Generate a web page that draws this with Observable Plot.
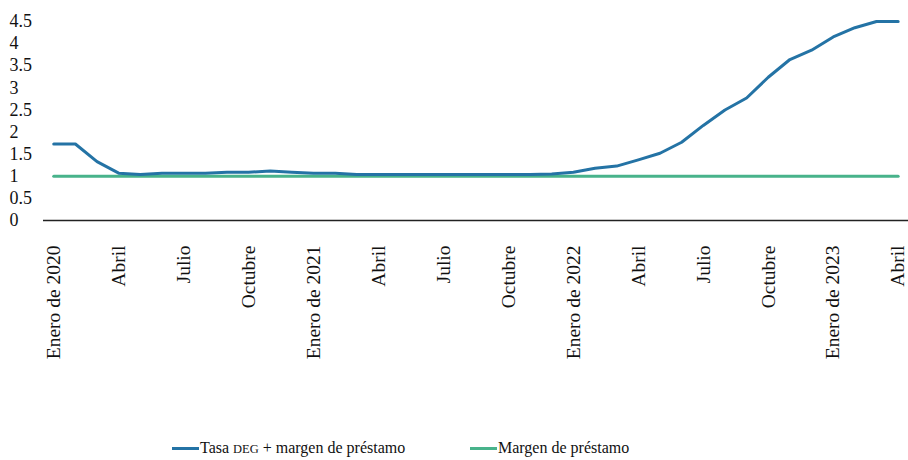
<!DOCTYPE html>
<html>
<head>
<meta charset="utf-8">
<script src="https://cdn.jsdelivr.net/npm/d3@7"></script>
<script src="https://cdn.jsdelivr.net/npm/@observablehq/plot@0.6"></script>
<style>
  html, body { margin: 0; padding: 0; background: #fff; overflow: hidden; }
  body { width: 908px; height: 460px; font-family: "Liberation Serif", serif; }
  #legend { position: relative; height: 30px; font-size: 16px; color: #111; }
  .item { position: absolute; top: 9px; display: flex; align-items: center; white-space: nowrap; }
  .sw { display: inline-block; width: 27px; height: 3px; margin-right: 1px; }
</style>
</head>
<body>
<div id="chart"></div>
<div id="legend">
  <div class="item" style="left:172px"><span class="sw" style="background:#2473a5"></span><span>Tasa <span style="font-size:0.78em">DEG</span> + margen de préstamo</span></div>
  <div class="item" style="left:470px"><span class="sw" style="background:#48b38b"></span><span>Margen de préstamo</span></div>
</div>
<script>
const months = [
  "2020-01","2020-02","2020-03","2020-04","2020-05","2020-06","2020-07","2020-08","2020-09","2020-10","2020-11","2020-12",
  "2021-01","2021-02","2021-03","2021-04","2021-05","2021-06","2021-07","2021-08","2021-09","2021-10","2021-11","2021-12",
  "2022-01","2022-02","2022-03","2022-04","2022-05","2022-06","2022-07","2022-08","2022-09","2022-10","2022-11","2022-12",
  "2023-01","2023-02","2023-03","2023-04"
];
const tasaDEGmasMargen = [
  1.73, 1.73, 1.33, 1.07, 1.04, 1.07, 1.07, 1.07, 1.09, 1.09, 1.12, 1.09,
  1.07, 1.07, 1.04, 1.04, 1.04, 1.04, 1.04, 1.04, 1.04, 1.04, 1.04, 1.05,
  1.09, 1.18, 1.23, 1.37, 1.52, 1.77, 2.15, 2.50, 2.77, 3.24, 3.64, 3.85,
  4.15, 4.36, 4.50, 4.50
];
const margenPrestamo = [
  1, 1, 1, 1, 1, 1, 1, 1, 1, 1, 1, 1,
  1, 1, 1, 1, 1, 1, 1, 1, 1, 1, 1, 1,
  1, 1, 1, 1, 1, 1, 1, 1, 1, 1, 1, 1,
  1, 1, 1, 1
];
const tickMonths = ["2020-01","2020-04","2020-07","2020-10","2021-01","2021-04","2021-07","2021-10","2022-01","2022-04","2022-07","2022-10","2023-01","2023-04"];
const tickLabels = ["Enero de 2020","Abril","Julio","Octubre","Enero de 2021","Abril","Julio","Octubre","Enero de 2022","Abril","Julio","Octubre","Enero de 2023","Abril"];
const yTicks = [0, 0.5, 1, 1.5, 2, 2.5, 3, 3.5, 4, 4.5];

const labelOf = new Map(tickMonths.map((m, i) => [m, tickLabels[i]]));
const tasa = months.map((m, i) => ({m, v: tasaDEGmasMargen[i]}));
const margen = months.map((m, i) => ({m, v: margenPrestamo[i]}));

const chart = Plot.plot({
  width: 908,
  height: 430,
  marginLeft: 43,
  marginRight: 0,
  marginTop: 21,
  marginBottom: 210,
  style: {fontFamily: "Liberation Serif, serif", color: "#111", background: "#fff"},
  x: {type: "point", domain: months, padding: 0.5, round: false, range: [42.4, 908.5], label: null},
  y: {domain: [0, 4.5], label: null},
  marks: [
    Plot.axisY({ticks: yTicks, tickFormat: d => String(d), tickSize: 0, tickPadding: 0, textAnchor: "start", dx: -34, fontSize: 18, label: null}),
    Plot.axisX({ticks: tickMonths, tickFormat: d => labelOf.get(d), tickRotate: -90, tickSize: 0, tickPadding: 25, fontSize: 19.5, label: null}),
    Plot.ruleY([0], {stroke: "#222", strokeWidth: 1.5}),
    Plot.lineY(margen, {x: "m", y: "v", stroke: "#48b38b", strokeWidth: 3}),
    Plot.lineY(tasa, {x: "m", y: "v", stroke: "#2473a5", strokeWidth: 3})
  ]
});
document.getElementById("chart").appendChild(chart);
</script>
</body>
</html>
